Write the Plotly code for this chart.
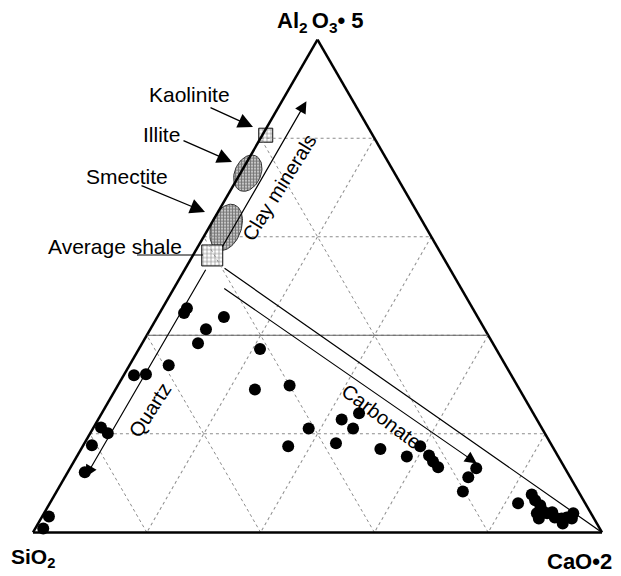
import math
import plotly.graph_objects as go

# ---------------- data (proportions, normalised to 100) ----------------
# vertices: Al2O3*5 (top), SiO2 (bottom left), CaO*2 (bottom right)
al2o3_x5 = [44.5, 45.5, 43.7, 41.2, 38.4, 33.9, 31.9, 32.1, 21.3, 20.1, 17.7, 12.2, 3.2, 0.8,
            37.2, 29.0, 29.8, 21.1, 17.5, 22.9, 24.2, 21.1, 18.1, 16.9, 15.4, 17.5, 15.6, 14.4,
            13.2, 13.0, 11.2, 8.3,
            5.9, 7.7, 6.5, 5.5, 4.5, 3.9, 2.8, 3.9, 4.1, 3.0, 2.8, 1.8, 3.0, 3.9, 2.8]
sio2 = [51.2, 50.2, 44.6, 49.0, 51.8, 59.2, 66.3, 64.1, 77.4, 76.8, 80.8, 84.8, 95.6, 97.8,
        41.5, 46.5, 40.0, 41.0, 46.4, 34.3, 30.6, 33.2, 37.7, 30.5, 26.6, 23.2, 22.6, 22.5,
        22.2, 15.6, 17.9, 20.3,
        11.8, 8.5, 8.5, 8.1, 8.3, 9.5, 9.7, 7.7, 6.7, 6.8, 5.7, 6.0, 4.7, 3.1, 3.9]
cao_x2 = [4.3, 4.3, 11.7, 9.8, 9.8, 6.9, 1.8, 3.8, 1.3, 3.1, 1.5, 3.0, 1.2, 1.4,
          21.3, 24.5, 30.2, 37.9, 36.1, 42.8, 45.2, 45.7, 44.2, 52.6, 58.0, 59.3, 61.8, 63.1,
          64.6, 71.4, 70.9, 71.4,
          82.3, 83.8, 85.0, 86.4, 87.2, 86.6, 87.5, 88.4, 89.2, 90.2, 91.5, 92.2, 92.3, 93.0, 93.3]

# reference mineral fields (centre compositions)
field_names = ["Kaolinite", "Illite", "Smectite", "Average shale"]
field_al = [80.6, 72.9, 61.9, 56.2]
field_si = [18.8, 25.8, 35.1, 40.4]
field_ca = [0.6, 1.3, 3.0, 3.4]

# trend arrows (start and end compositions)
trend_names = ["Clay minerals", "Quartz", "Carbonate", "Shale-carbonate mixing"]
trend_al_start = [57.7, 53.6, 49.7, 53.8]
trend_si_start = [38.0, 42.7, 41.8, 39.7]
trend_ca_start = [4.3, 3.7, 8.5, 6.5]
trend_al_end = [87.5, 11.2, 14.0, 0.0]
trend_si_end = [8.2, 85.2, 15.0, 0.0]
trend_ca_end = [4.3, 3.6, 71.0, 100.0]
trend_head = [True, True, True, False]

# ---------------- layout geometry ----------------
# the page body adds an 8 px margin, so the figure is 8 px smaller and
# reference pixel positions are shifted by OFF
OFF = 8
FIG_W, FIG_H = 621 - OFF, 576 - OFF
DX0, DX1 = (33 - OFF) / FIG_W, (602 - OFF) / FIG_W
W_PX = (DX1 - DX0) * FIG_W
H_PX = W_PX * math.sqrt(3) / 2
CY = 1 - (286 - OFF) / FIG_H
TERN_DY = [CY - 0.45, CY + 0.45]
CART_DY = [CY - H_PX / 2 / FIG_H, CY + H_PX / 2 / FIG_H]
S3 = math.sqrt(3) / 2


def to_xy(a, b, c):
    s = a + b + c
    return c / s + 0.5 * a / s, S3 * a / s


FONT = "Liberation Sans, Arial, Helvetica, sans-serif"

fig = go.Figure()

# mineral fields drawn on a cartesian overlay aligned with the ternary triangle
field_style = {
    "Kaolinite": dict(kind="square", size=14),
    "Illite": dict(kind="ellipse", A=19, B=13, ang=66),
    "Smectite": dict(kind="ellipse", A=24, B=15, ang=70),
    "Average shale": dict(kind="square", size=21),
}
for name, a, b, c in zip(field_names, field_al, field_si, field_ca):
    cx, cy = to_xy(a, b, c)
    st = field_style[name]
    xs, ys = [], []
    if st["kind"] == "square":
        h = st["size"] / 2 / W_PX
        xs = [cx - h, cx + h, cx + h, cx - h, cx - h]
        ys = [cy - h, cy - h, cy + h, cy + h, cy - h]
        pat = dict(shape="+", size=4, solidity=0.3, fgcolor="#111111", bgcolor="white")
        lc = "#111111"
    else:
        th = math.radians(st["ang"])
        for i in range(73):
            t = 2 * math.pi * i / 72
            ux, uy = st["A"] * math.cos(t), st["B"] * math.sin(t)
            dx = ux * math.cos(th) - uy * math.sin(th)
            dy = ux * math.sin(th) + uy * math.cos(th)
            xs.append(cx + dx / W_PX)
            ys.append(cy + dy / W_PX)
        pat = dict(shape="+", size=3, solidity=0.5, fgcolor="#222222", bgcolor="#c4c4c4")
        lc = "#333333"
    fig.add_trace(go.Scatter(x=xs, y=ys, mode="lines", fill="toself",
                             fillpattern=pat, line=dict(color=lc, width=1),
                             hoverinfo="skip", showlegend=False, xaxis="x", yaxis="y"))

# solid 40 % line of the top component
fig.add_trace(go.Scatterternary(a=[40, 40], b=[60, 0], c=[0, 60], mode="lines",
                                line=dict(color="#666666", width=1), hoverinfo="skip",
                                showlegend=False))

# samples
fig.add_trace(go.Scatterternary(a=al2o3_x5, b=sio2, c=cao_x2, mode="markers",
                                marker=dict(color="black", size=12),
                                cliponaxis=False, showlegend=False))

axis_style = dict(showline=True, linecolor="black", linewidth=2.5, showgrid=True,
                  gridcolor="#8c8c8c", gridwidth=1, griddash="dot", ticks="",
                  showticklabels=False, dtick=20, tick0=0, min=0,
                  title=dict(text=""), layer="below traces")

annotations = []
# trend arrows via the overlay axes
for n, a0, b0, c0, a1, b1, c1, hd in zip(trend_names, trend_al_start, trend_si_start,
                                         trend_ca_start, trend_al_end, trend_si_end,
                                         trend_ca_end, trend_head):
    x0, y0 = to_xy(a0, b0, c0)
    x1, y1 = to_xy(a1, b1, c1)
    annotations.append(dict(x=x1, y=y1, ax=x0, ay=y0, xref="x", yref="y", axref="x",
                            ayref="y", text="", showarrow=True,
                            arrowhead=2 if hd else 0, arrowsize=2.0, arrowwidth=1.2,
                            arrowcolor="black", standoff=0))


def pp(px, py):
    return (px - OFF) / FIG_W, 1 - (py - OFF) / FIG_H


def label(text, px, py, size=21, angle=0, bold=False):
    x, y = pp(px, py)
    t = f"<b>{text}</b>" if bold else text
    annotations.append(dict(x=x, y=y, xref="paper", yref="paper", text=t, showarrow=False,
                            xanchor="center", yanchor="middle", textangle=angle,
                            font=dict(family=FONT, size=size, color="black")))


def pointer(tx, ty, hx, hy):
    x, y = pp(hx, hy)
    annotations.append(dict(x=x, y=y, xref="paper", yref="paper", text="", showarrow=True,
                            ax=tx - hx, ay=ty - hy, arrowhead=2, arrowsize=2.3,
                            arrowwidth=1.3, arrowcolor="black", standoff=0))


label("Al<sub>2 </sub>O<sub>3</sub>• 5", 321, 22, size=22, bold=True)
label("SiO<sub>2</sub>", 33, 558, size=21, bold=True)
label("CaO•2", 579, 561, size=22, bold=True)
label("Kaolinite", 189, 94)
label("Illite", 161, 134)
label("Smectite", 127, 176)
label("Average shale", 115, 246)
label("Clay minerals", 279, 188, size=20, angle=-58)
label("Quartz", 150, 410, size=20, angle=-57)
label("Carbonate", 381, 416, size=20, angle=37)

pointer(209, 107, 253, 127)
pointer(182, 140, 232, 162)
pointer(140, 185, 205, 212)

ux0, uy0 = pp(137, 255)
ux1, uy1 = pp(203, 255)
shapes = [dict(type="line", xref="paper", yref="paper", x0=ux0, y0=uy0, x1=ux1, y1=uy1,
               line=dict(color="black", width=1))]

fig.update_layout(
    width=FIG_W, height=FIG_H, margin=dict(l=0, r=0, t=0, b=0),
    paper_bgcolor="white", plot_bgcolor="rgba(0,0,0,0)", showlegend=False,
    ternary=dict(sum=100, domain=dict(x=[DX0, DX1], y=TERN_DY),
                 bgcolor="rgba(0,0,0,0)", aaxis=axis_style, baxis=axis_style,
                 caxis=axis_style),
    xaxis=dict(domain=[DX0, DX1], range=[0, 1], visible=False, fixedrange=True),
    yaxis=dict(domain=CART_DY, range=[0, S3], visible=False, fixedrange=True),
    annotations=annotations, shapes=shapes,
)

fig.write_html("out.html")
